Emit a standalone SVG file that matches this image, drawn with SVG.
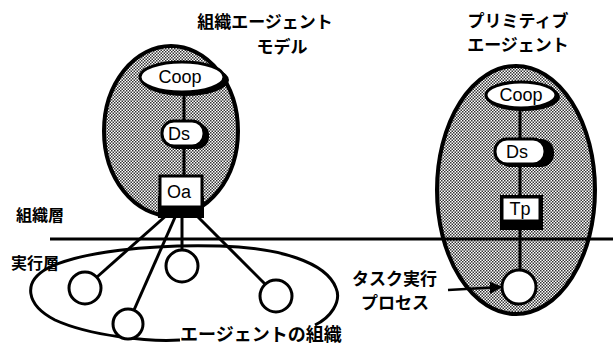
<svg xmlns="http://www.w3.org/2000/svg" width="613" height="349" viewBox="0 0 613 349">
<defs>
<pattern id="dots" patternUnits="userSpaceOnUse" width="3" height="3">
<rect width="3" height="3" fill="#ffffff"/>
<rect x="0" y="0" width="1.5" height="1.5" fill="#333"/>
<rect x="1.5" y="1.5" width="1.5" height="1.5" fill="#333"/>
</pattern>
<marker id="arr" viewBox="0 0 10 10" refX="9" refY="5" markerWidth="5" markerHeight="5" orient="auto">
<path d="M0,0 L10,5 L0,10 z" fill="#000"/>
</marker>
</defs>
<style>
.agent{fill:url(#dots);stroke:#000;stroke-width:4}
.wn{fill:#fff;stroke:#000;stroke-width:3}
.sh{fill:#000}
.ln{stroke:#000;stroke-width:3;fill:none}
.lb{font-family:"Liberation Sans",Arial,sans-serif;font-size:18px;fill:#000;text-anchor:middle}
.jp{font-family:"Noto Sans CJK JP","Noto Sans",sans-serif;font-size:17px;font-weight:bold;fill:#000}
.c{text-anchor:middle}
</style>
<rect width="613" height="349" fill="#fff"/>

<g id="org-agent">
<ellipse class="agent" cx="171" cy="131" rx="67" ry="85"/>
</g>
<g id="prim-agent">
<ellipse class="agent" cx="516" cy="190" rx="79" ry="124"/>
</g>

<g id="connectors">
<line class="ln" x1="50" y1="239" x2="613" y2="239"/>
<line class="ln" x1="184" y1="92" x2="184" y2="124"/>
<line class="ln" x1="184" y1="147" x2="184" y2="176"/>
<line class="ln" x1="520" y1="107" x2="520" y2="140"/>
<line class="ln" x1="520" y1="165" x2="520" y2="196"/>
<line class="ln" x1="520" y1="229" x2="520" y2="271"/>
<line class="ln" x1="168" y1="214" x2="97" y2="277"/>
<line class="ln" x1="176" y1="215" x2="134" y2="310"/>
<line class="ln" x1="182" y1="215" x2="182" y2="251"/>
<line class="ln" x1="194" y1="213" x2="265" y2="284"/>
<path class="ln" d="M315,325 C330,318 342,302 336,288 C326,262 280,248 220,246 C150,244 80,252 48,268 C22,282 26,305 55,320 C90,336 150,342 180,340"/>
<line x1="448" y1="290" x2="501" y2="287" stroke="#000" stroke-width="2.5" marker-end="url(#arr)"/>
</g>

<g id="coop-left">
<ellipse class="sh" cx="185" cy="80" rx="44" ry="16"/>
<ellipse class="wn" cx="182" cy="77" rx="42" ry="15"/>
<text class="lb" x="180" y="83">Coop</text>
</g>
<g id="ds-left">
<rect class="sh" x="165" y="123" width="44" height="26" rx="12"/>
<rect class="wn" x="162" y="121" width="42" height="25" rx="12"/>
<text class="lb" x="179" y="140">Ds</text>
</g>
<g id="oa">
<rect class="sh" x="158" y="196" width="46" height="22"/>
<rect class="wn" x="160" y="176" width="42" height="31"/>
<text class="lb" x="179" y="198">Oa</text>
</g>

<g id="coop-right">
<ellipse class="sh" cx="523" cy="97" rx="37" ry="14"/>
<ellipse class="wn" cx="521" cy="95" rx="35" ry="13"/>
<text class="lb" x="521" y="101">Coop</text>
</g>
<g id="ds-right">
<rect class="sh" x="498" y="139" width="56" height="28" rx="13"/>
<rect class="wn" x="495" y="139" width="50" height="25" rx="12"/>
<text class="lb" x="517" y="158">Ds</text>
</g>
<g id="tp">
<rect class="sh" x="500" y="195" width="43" height="35"/>
<rect class="wn" x="502" y="197" width="38" height="24"/>
<text class="lb" x="520" y="215">Tp</text>
</g>
<g id="task">
<circle class="wn" cx="519" cy="287" r="17"/>
</g>

<g id="a1"><circle class="wn" cx="85" cy="288" r="16"/></g>
<g id="a2"><circle class="wn" cx="128" cy="324" r="15"/></g>
<g id="a3"><circle class="wn" cx="182" cy="266" r="16"/></g>
<g id="a4"><circle class="wn" cx="276" cy="296" r="16"/></g>

<g id="labels">
<text class="jp c" x="265" y="28">組織エージェント</text>
<text class="jp c" x="282" y="53">モデル</text>
<text class="jp c" x="518" y="27">プリミティブ</text>
<text class="jp c" x="518" y="51">エージェント</text>
<text class="jp" x="16" y="221" style="font-size:16px">組織層</text>
<text class="jp" x="11" y="269" style="font-size:16px">実行層</text>
<text class="jp" x="352" y="285">タスク実行</text>
<text class="jp" x="361" y="309">プロセス</text>
<text class="jp" x="180" y="341" style="font-size:18px">エージェントの組織</text>
</g>
</svg>
